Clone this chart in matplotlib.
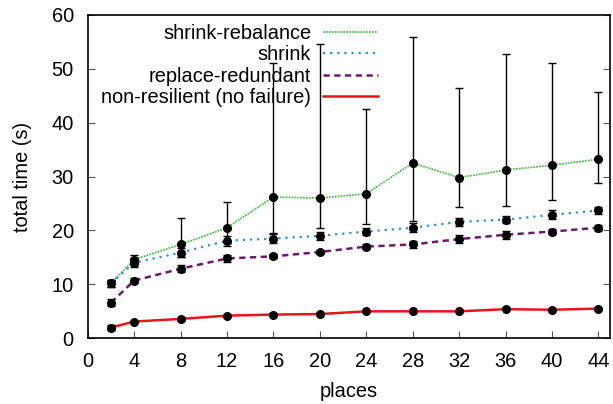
import matplotlib
matplotlib.use('Agg')
import matplotlib.pyplot as plt

plt.rcParams['font.family'] = ['Liberation Sans', 'DejaVu Sans']

places = [2, 4, 8, 12, 16, 20, 24, 28, 32, 36, 40, 44]

# mean total time (s) per configuration
rebalance = [10.2, 14.6, 17.4, 20.5, 26.2, 26.0, 26.8, 32.5, 29.8, 31.2, 32.1, 33.2]
rebalance_lo = [9.6, 13.6, 15.1, 17.7, 19.5, 20.5, 21.2, 21.8, 24.3, 24.6, 25.7, 28.8]
rebalance_hi = [10.8, 15.4, 22.3, 25.2, 51.1, 54.6, 42.6, 55.9, 46.5, 52.7, 51.1, 45.6]

shrink = [10.2, 14.0, 15.9, 18.1, 18.5, 19.0, 19.8, 20.5, 21.6, 22.0, 22.9, 23.7]
shrink_err = [0.6, 0.8, 0.8, 0.9, 0.8, 0.8, 0.7, 0.8, 0.7, 0.7, 0.8, 0.7]

replace = [6.6, 10.7, 12.9, 14.8, 15.2, 16.0, 17.0, 17.4, 18.4, 19.2, 19.8, 20.5]
replace_err = [0.7, 0.4, 0.6, 0.6, 0.4, 0.4, 0.5, 0.6, 0.8, 0.7, 0.5, 0.6]

nonres = [2.0, 3.1, 3.6, 4.2, 4.4, 4.5, 5.0, 5.0, 5.0, 5.4, 5.3, 5.5]
nonres_err = [0.5, 0.2, 0.2, 0.2, 0.2, 0.2, 0.2, 0.2, 0.2, 0.2, 0.2, 0.2]

fig = plt.figure(figsize=(6.13, 4.04), dpi=100)
ax = fig.add_axes([0.1431, 0.1626, 0.8520, 0.8010])

ax.plot(places, rebalance, color='#55b855', lw=1.3, ls=(0, (1, 0.6)), label='shrink-rebalance')
ax.plot(places, shrink, color='#2f8fd0', lw=1.6, ls=(0, (1, 2.2)), label='shrink')
ax.plot(places, replace, color='#6a1a6a', lw=1.8, ls=(0, (2.5, 1.8)), label='replace-redundant')
ax.plot(places, nonres, color='#e8141c', lw=1.8, label='non-resilient (no failure)')

err_rb = [[m - l for m, l in zip(rebalance, rebalance_lo)],
          [h - m for m, h in zip(rebalance, rebalance_hi)]]
for y, e in [(rebalance, err_rb), (shrink, shrink_err), (replace, replace_err), (nonres, nonres_err)]:
    ax.errorbar(places, y, yerr=e, fmt='o', color='black', ms=5.5, elinewidth=1.0,
                capsize=3, capthick=1.0, zorder=3)

ax.set_xlim(0, 45)
ax.set_ylim(0, 60)
ax.set_xticks(range(0, 45, 4))
ax.set_yticks(range(0, 61, 10))
ax.tick_params(axis='both', direction='in', labelsize=14.4, length=5, color='#555555', pad=10)
ax.tick_params(axis='y', right=True)
ax.set_xlabel('places', fontsize=14.4, labelpad=8)
ax.set_ylabel('total time (s)', fontsize=14.4, labelpad=14)
for s in ax.spines.values():
    s.set_linewidth(1.2)

ax.legend(loc='upper right', bbox_to_anchor=(0.556, 0.972), frameon=False, markerfirst=False,
          fontsize=14.4, handlelength=2.75, handletextpad=0.6, labelspacing=0.12, borderpad=0,
          borderaxespad=0)

fig.savefig('out.png', dpi=100)
